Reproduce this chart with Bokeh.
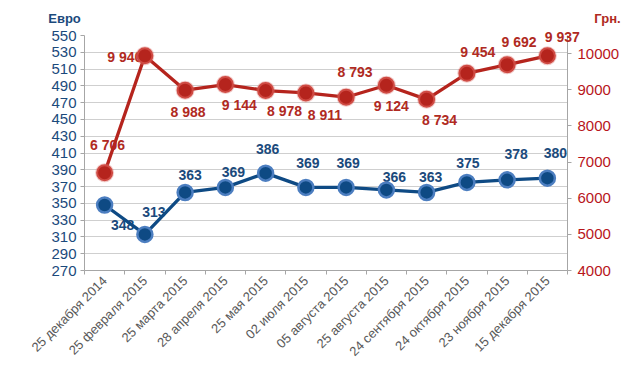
import math
from bokeh.plotting import figure
from bokeh.models import (Range1d, LinearAxis, FixedTicker, ColumnDataSource,
                          LabelSet, Label)
from bokeh.core.properties import value
from bokeh.embed import file_html
from bokeh.resources import INLINE

dates = ["25 декабря 2014", "25 февраля 2015", "25 марта 2015", "28 апреля 2015",
         "25 мая 2015", "02 июля 2015", "05 августа 2015", "25 августа 2015",
         "24 сентября 2015", "24 октября 2015", "23 ноября 2015", "15 декабря 2015"]
eur = [348, 313, 363, 369, 386, 369, 369, 366, 363, 375, 378, 380]
uah = [6706, 9940, 8988, 9144, 8978, 8911, 8793, 9124, 8734, 9454, 9692, 9937]
eur_ticks = list(range(270, 551, 20))
uah_ticks = list(range(4000, 10001, 1000))

# label placement (screen px; dx right, dy down)
eur_dx = [18, 9, 5, 8, 2, 2, 2, 8, 4, 1, 9, 8]
eur_dy = [20, -22, -17, -15, -24, -24, -24, -13, -15, -19, -26, -25]
uah_dx = [3, -20, 3, 14, 19, 19, 9, 5, 13, 11, 12, 15]
uah_dy = [-28, 1, 22, 20, 20, 22, -25, 21, 21, -21, -23, -19]

FONT = "Liberation Sans"
BLUE = "#0E4A84"
BLUE_TXT = "#1B4A7C"
RED = "#B5241D"
RED_TXT = "#B02A22"

n = len(dates)
xs = [i + 0.5 for i in range(n)]

def fmt(v):
    return f"{v:,}".replace(",", " ")

src_e = ColumnDataSource(dict(x=xs, y=eur, t=[fmt(v) for v in eur],
                              dx=eur_dx, dy=[-d for d in eur_dy]))
m = n - 1  # last red label sits partly outside the frame -> drawn as a free Label
src_u = ColumnDataSource(dict(x=xs[:m], y=uah[:m], t=[fmt(v) for v in uah[:m]],
                              dx=uah_dx[:m], dy=[-d for d in uah_dy[:m]]))
src_ul = ColumnDataSource(dict(x=xs, y=uah))

p = figure(width=634, height=373, output_backend="svg", toolbar_location=None,
           x_range=Range1d(0, n), y_range=Range1d(270, 550),
           min_border_left=84, min_border_right=67, min_border_top=35,
           min_border_bottom=103)
p.extra_y_ranges = {"uah": Range1d(4000, 10500)}
p.outline_line_color = None

ly = FixedTicker(ticks=eur_ticks)
p.yaxis.ticker = ly
p.ygrid.ticker = ly
p.ygrid.grid_line_color = "#CFCFCF"
p.xgrid.visible = False
ax = p.yaxis[0]
ax.axis_line_color = "#A6A6A6"
ax.major_tick_line_color = "#A6A6A6"
ax.major_tick_out = 4
ax.major_tick_in = 0
ax.minor_tick_line_color = None
ax.major_label_text_font = FONT
ax.major_label_text_font_size = "15px"
ax.major_label_text_color = BLUE_TXT
ax.major_label_standoff = 4

ra = LinearAxis(y_range_name="uah", ticker=FixedTicker(ticks=uah_ticks))
ra.axis_line_color = "#A6A6A6"
ra.major_tick_line_color = "#A6A6A6"
ra.major_tick_out = 4
ra.major_tick_in = 0
ra.minor_tick_line_color = None
ra.major_label_text_font = FONT
ra.major_label_text_font_size = "15px"
ra.major_label_text_color = "#B8161B"
ra.major_label_standoff = 6
p.add_layout(ra, "right")

xa = p.xaxis[0]
xa.ticker = FixedTicker(ticks=xs, minor_ticks=list(range(n + 1)))
xa.major_label_overrides = {x: d for x, d in zip(xs, dates)}
xa.major_label_orientation = math.pi / 4
xa.major_tick_out = 0
xa.major_tick_in = 0
xa.minor_tick_out = 4
xa.minor_tick_in = 0
xa.minor_tick_line_color = "#A6A6A6"
xa.axis_line_color = "#A6A6A6"
xa.major_label_text_font = FONT
xa.major_label_text_font_size = "13px"
xa.major_label_text_color = "#595959"
xa.major_label_standoff = 4

for src, col, rn in ((src_e, BLUE_TXT, "default"), (src_u, RED_TXT, "uah")):
    ls = LabelSet(x="x", y="y", text="t", source=src, x_offset="dx", y_offset="dy",
                  text_align="center", text_baseline="middle",
                  text_font=value(FONT), text_font_size="14px", text_font_style="bold",
                  text_color=col, y_range_name=rn)
    p.add_layout(ls)

# last red value label (placed in the left side panel so it is not clipped)
p.add_layout(Label(x=xs[m], y=uah[m], y_range_name="uah", text=fmt(uah[m]),
                   x_offset=uah_dx[m], y_offset=-uah_dy[m],
                   text_align="center", text_baseline="middle", text_font=FONT,
                   text_font_size="14px", text_font_style="bold",
                   text_color=RED_TXT), "left")

p.line("x", "y", source=src_e, line_color=BLUE, line_width=3.3, level="overlay")
p.line("x", "y", source=src_ul, line_color=RED, line_width=3.3, y_range_name="uah",
       level="overlay")
p.scatter("x", "y", source=src_e, size=15, fill_color=BLUE,
          line_color="#4C7EC0", line_width=2.5, level="overlay")
p.scatter("x", "y", source=src_ul, size=19, fill_color="#D96A64", fill_alpha=0.35,
          line_color=None, y_range_name="uah", level="overlay")
p.scatter("x", "y", source=src_ul, size=15, fill_color=RED,
          line_color="#CF4A43", line_width=2, y_range_name="uah", level="overlay")

# axis titles (in the top side panel so they are not clipped to the frame)
p.add_layout(Label(x=-20, y=17, x_units="screen", y_units="screen", text="Евро",
                   text_align="center", text_baseline="middle", text_font=FONT,
                   text_font_size="13px", text_font_style="bold",
                   text_color=BLUE_TXT), "above")
p.add_layout(Label(x=523, y=2, x_units="screen", y_units="screen", text="Грн.",
                   text_align="center", text_baseline="middle", text_font=FONT,
                   text_font_size="13px", text_font_style="bold",
                   text_color=RED_TXT), "above")

open("out.html", "w").write(file_html(p, INLINE))
